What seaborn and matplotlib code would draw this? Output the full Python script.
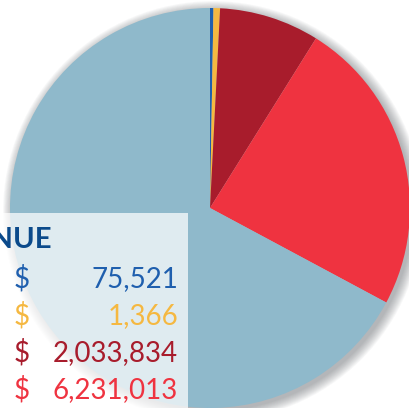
import matplotlib.pyplot as plt
import seaborn as sns
from matplotlib.patches import Rectangle, Circle

# slice sizes (degrees of arc), clockwise from 12 o'clock
slice_names = ['Blue', 'Yellow', 'Dark red', 'Red', 'Other']
slice_sizes = [1.0, 1.9, 29.1, 86.2, 241.8]
colors = ['#1f5fae', '#f5b841', '#a81c2c', '#ef3340', '#8fb9cb']

# rows shown in the (cropped) revenue box
revenue_values = [75521, 1366, 2033834, 6231013]
revenue_colors = colors[:4]
title_text = 'REVENUE'

sns.set_theme(style="white")
plt.rcParams['font.family'] = ['Lato', 'DejaVu Sans']

fig = plt.figure(figsize=(4.10, 4.08), dpi=100)
ax = fig.add_axes([0, 0, 1, 1])

# soft drop shadow behind the pie
for i in range(12):
    ax.add_patch(Circle((213, 197), 200 + i * 0.9, facecolor='#555a60',
                        alpha=0.045, edgecolor='none', zorder=0))

ax.pie(slice_sizes, colors=colors, startangle=90, counterclock=False,
       center=(210, 200), radius=200, frame=True,
       wedgeprops=dict(linewidth=0, zorder=2))
ax.set_xlim(0, 410)
ax.set_ylim(0, 408)
ax.set_aspect('auto')
ax.axis('off')

# translucent revenue box
ax.add_patch(Rectangle((0, 0), 188, 195, facecolor='white', alpha=0.72,
                       edgecolor='none', zorder=5))

ax.text(52, 408 - 240, title_text, ha='right', va='center', fontsize=21,
        fontweight='bold', color='#0b4a8b', zorder=6)

row_y = [279, 316, 353, 390]
for y, v, c in zip(row_y, revenue_values, revenue_colors):
    ax.text(14, 408 - y, '$', ha='left', va='center', fontsize=20, color=c, zorder=6)
    ax.text(178, 408 - y, f'{v:,}', ha='right', va='center', fontsize=20, color=c, zorder=6)

plt.savefig('out.png', dpi=100)
